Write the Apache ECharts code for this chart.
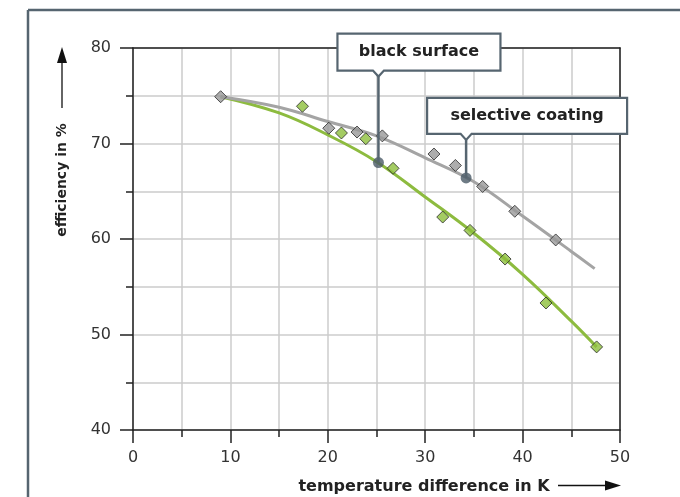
<!DOCTYPE html>
<html><head><meta charset="utf-8">
<script src="https://cdn.jsdelivr.net/npm/echarts@6/dist/echarts.min.js"></script>
<style>html,body{margin:0;padding:0;background:#fff}#c{width:680px;height:497px}</style>
</head><body><div id="c"></div>
<script>
// ---- data ----
const xTicks = [0, 10, 20, 30, 40, 50];
const yTicks = [40, 50, 60, 70, 80];
const xName = 'temperature difference in K';
const yName = 'efficiency in %';
const blackLabel = 'black surface';
const selectiveLabel = 'selective coating';

// measured points (temperature difference K, efficiency %)
const selectiveMeasured = [[9.0,74.9],[20.1,71.6],[23.0,71.2],[25.6,70.8],[30.9,68.9],[33.1,67.7],[35.9,65.5],[39.2,62.9],[43.4,59.9]];
const blackMeasured = [[17.4,73.9],[21.4,71.1],[23.9,70.5],[26.7,67.4],[31.8,62.3],[34.6,60.9],[38.2,57.9],[42.4,53.3],[47.6,48.7]];

// fitted curves
const selectiveCurve = [[9,74.9],[15,73.8],[20,72.3],[25,70.8],[30,68.5],[35,66.0],[40,62.4],[45,58.7],[47.4,56.9]];
const blackCurve = [[9,74.9],[15,73.2],[20,70.9],[25,68.1],[30,64.4],[35,60.6],[40,56.3],[45,51.4],[47.6,48.7]];

// annotation anchor points on the curves
const blackDot = [25.2, 68.0];
const selectiveDot = [34.2, 66.4];

// ---- styles ----
const GREEN = '#8dbb3f', GRAY = '#a4a4a4', SLATE = '#566570', AXIS = '#222';
const FONT = 'DejaVu Sans';

const chart = echarts.init(document.getElementById('c'), null, {renderer: 'canvas'});

const axisCommon = {
  type: 'value',
  axisLine: {show: true, lineStyle: {color: AXIS, width: 1.5}},
  axisTick: {show: true, inside: false, length: 13, lineStyle: {color: AXIS, width: 1.5}},
  minorTick: {show: true, splitNumber: 2, length: 7, lineStyle: {color: AXIS, width: 1.5}},
  splitLine: {show: true, lineStyle: {color: '#cccccc', width: 1.5}},
  minorSplitLine: {show: true, lineStyle: {color: '#cccccc', width: 1.5}}
};
const borderAxis = {
  type: 'value', interval: 10,
  axisLine: {show: true, onZero: false, lineStyle: {color: AXIS, width: 1.5}},
  axisTick: {show: false}, minorTick: {show: false}, axisLabel: {show: false},
  splitLine: {show: false}, minorSplitLine: {show: false}
};

chart.setOption({
  animation: false,
  grid: {left: 133, right: 60, top: 48, bottom: 67, show: false, outerBoundsMode: 'none', containLabel: false},
  xAxis: [
    Object.assign({}, axisCommon, {
      min: xTicks[0], max: xTicks[xTicks.length - 1], interval: 10,
      axisLabel: {margin: 20, fontSize: 16, color: '#333', fontFamily: FONT,
        formatter: v => xTicks.indexOf(v) >= 0 ? String(v) : ''}
    }),
    Object.assign({}, borderAxis, {position: 'top', min: xTicks[0], max: xTicks[xTicks.length - 1]})
  ],
  yAxis: [
    Object.assign({}, axisCommon, {
      min: yTicks[0], max: yTicks[yTicks.length - 1], interval: 10,
      axisLabel: {margin: 22, fontSize: 16, color: '#333', fontFamily: FONT,
        formatter: v => yTicks.indexOf(v) >= 0 ? String(v) : ''}
    }),
    Object.assign({}, borderAxis, {position: 'right', min: yTicks[0], max: yTicks[yTicks.length - 1]})
  ],
  series: [
    {type: 'line', name: 'black surface fit', data: blackCurve, smooth: 0.4, showSymbol: false, symbol: 'none',
      lineStyle: {color: GREEN, width: 3}, z: 2},
    {type: 'line', name: 'selective coating fit', data: selectiveCurve, smooth: 0.4, showSymbol: false, symbol: 'none',
      lineStyle: {color: GRAY, width: 3}, z: 2},
    {type: 'scatter', name: 'selective coating', data: selectiveMeasured, symbol: 'diamond', symbolSize: 12,
      itemStyle: {color: '#999999', borderColor: '#2a2a2a', borderWidth: 1}, z: 3},
    {type: 'scatter', name: 'black surface', data: blackMeasured, symbol: 'diamond', symbolSize: 12,
      itemStyle: {color: '#8dbf3c', borderColor: '#2a2a2a', borderWidth: 1}, z: 4},
    {type: 'scatter', name: 'anchors', data: [blackDot, selectiveDot], symbol: 'circle', symbolSize: 11,
      itemStyle: {color: '#4a5a66'}, z: 10}
  ]
});

function callout(dot, text, dl, dr, dt, db) {
  const p = chart.convertToPixel({xAxisIndex: 0, yAxisIndex: 0}, dot);
  const x = p[0], y = p[1];
  const L = x - dl, R = x + dr, T = y - dt, B = y - db;
  return [
    {type: 'line', z: 90, shape: {x1: x, y1: B + 6, x2: x, y2: y}, style: {stroke: SLATE, lineWidth: 2.5}},
    {type: 'polygon', z: 91, shape: {points: [[L,T],[R,T],[R,B],[x+5.5,B],[x,B+6],[x-5.5,B],[L,B]]},
      style: {fill: '#fff', stroke: SLATE, lineWidth: 2.2}},
    {type: 'text', z: 92, x: (L + R) / 2, y: (T + B) / 2,
      style: {text: text, fill: '#222', font: 'bold 16px "' + FONT + '"', align: 'center', verticalAlign: 'middle'}}
  ];
}

const els = [
  // outer frame
  {type: 'line', shape: {x1: 28, y1: 10, x2: 680, y2: 10}, style: {stroke: SLATE, lineWidth: 2.5}},
  {type: 'line', shape: {x1: 28, y1: 10, x2: 28, y2: 497}, style: {stroke: SLATE, lineWidth: 2.5}},
  // y axis name + arrow
  {type: 'text', x: 62, y: 180, rotation: Math.PI / 2,
    style: {text: yName, fill: '#222', font: 'bold 14px "' + FONT + '"', align: 'center', verticalAlign: 'middle'}},
  {type: 'line', shape: {x1: 62, y1: 108, x2: 62, y2: 60}, style: {stroke: '#111', lineWidth: 1.3}},
  {type: 'polygon', shape: {points: [[62,47],[67,63],[57,63]]}, style: {fill: '#111'}},
  // x axis name + arrow
  {type: 'text', x: 424, y: 487,
    style: {text: xName, fill: '#222', font: 'bold 16px "' + FONT + '"', align: 'center', verticalAlign: 'middle'}},
  {type: 'line', shape: {x1: 558, y1: 485.5, x2: 608, y2: 485.5}, style: {stroke: '#111', lineWidth: 1.3}},
  {type: 'polygon', shape: {points: [[621,485.5],[605,480.5],[605,490.5]]}, style: {fill: '#111'}}
].concat(
  callout(blackDot, blackLabel, 41, 122, 129, 92),
  callout(selectiveDot, selectiveLabel, 39, 161, 80, 44)
);

chart.setOption({graphic: {elements: els}});
</script>
</body></html>
